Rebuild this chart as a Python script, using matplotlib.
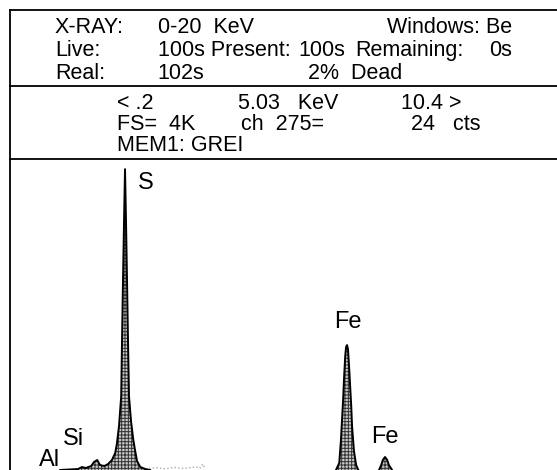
import matplotlib
matplotlib.use("Agg")
import matplotlib.pyplot as plt
from matplotlib.lines import Line2D

plt.rcParams["font.family"] = ["Liberation Sans", "DejaVu Sans"]
plt.rcParams["hatch.linewidth"] = 0.7

# spectrum outline (keV, counts)
s_kev = [1.12, 1.45, 1.52, 1.59, 1.69, 1.74, 1.80, 1.85, 1.93, 2.00, 2.07, 2.13,
         2.16, 2.20, 2.24, 2.255, 2.273, 2.292, 2.31, 2.328, 2.347, 2.365, 2.383,
         2.42, 2.46, 2.49, 2.53, 2.59, 2.68, 2.77]
s_counts = [0, 13, 39, 26, 52, 104, 130, 65, 52, 78, 130, 222,
            339, 574, 965, 1682, 2465, 3247, 3925, 3247, 2465, 1682, 965,
            639, 404, 274, 117, 39, 13, 0]

fe_ka_kev = [6.18, 6.24, 6.27, 6.29, 6.31, 6.33, 6.35, 6.365, 6.383, 6.40, 6.42,
             6.44, 6.46, 6.475, 6.51, 6.55, 6.59]
fe_ka_counts = [0, 91, 378, 639, 900, 1226, 1487, 1604, 1630, 1578, 1356,
                1095, 835, 574, 248, 65, 0]

fe_kb_kev = [6.97, 7.01, 7.04, 7.08, 7.12, 7.15, 7.21]
fe_kb_counts = [0, 65, 130, 170, 130, 65, 0]

bg_kev = [2.75, 2.9, 3.05, 3.2, 3.35, 3.5, 3.62, 3.68, 3.74, 3.78]
bg_counts = [20, 30, 15, 35, 20, 30, 40, 20, 78, 10]

# peak labels (element, keV, counts)
label_names = ["S", "Fe", "Fe", "Al", "Si"]
label_kev = [2.69, 6.40, 7.08, 0.92, 1.36]
label_counts = [3740, 1930, 430, 130, 400]

# header text: (text, x px, baseline y px, alignment)
header = [
    ("X-RAY:", 55, 33, "left"), ("0-20  KeV", 158, 33, "left"),
    ("Windows: Be", 512, 33, "right"),
    ("Live:", 55, 56, "left"), ("100s Present:", 158, 56, "left"),
    ("100s", 298, 56, "left"), ("Remaining:", 355, 56, "left"),
    ("0s", 512, 56, "right"),
    ("Real:", 55, 79, "left"), ("102s", 157, 79, "left"),
    ("2%  Dead", 308, 79, "left"),
    ("< .2", 117, 109, "left"), ("5.03   KeV", 238, 109, "left"),
    ("10.4 >", 401, 109, "left"),
    ("FS=  4K", 117, 130, "left"), ("ch  275=", 241, 130, "left"),
    ("24   cts", 411, 130, "left"),
    ("MEM1: GREI", 117, 151, "left"),
]

W, H = 557, 470
fig = plt.figure(figsize=(W / 100, H / 100), dpi=100)
fig.patch.set_facecolor("white")


def fx(x):
    return x / W


def fy(y):
    return 1 - y / H


# frame lines
for (x0, y0, x1, y1) in [(10, 10, W, 10), (10, 86, W, 86), (10, 159, W, 159),
                         (10, 10, 10, H)]:
    fig.add_artist(Line2D([fx(x0), fx(x1)], [fy(y0), fy(y1)], color="black",
                          lw=1.3, transform=fig.transFigure))

for txt, x, y, ha in header:
    fig.text(fx(x), fy(y), txt, fontsize=15.5, ha=ha, va="baseline")

# spectrum axes: 0.2 - 10.4 keV across the panel, 4K full scale
ax = fig.add_axes([fx(10), 0, (566 - 10) / W, (H - 155) / H])
ax.set_xlim(0.2, 10.4)
ax.set_ylim(0, 4110)
ax.axis("off")

for k, c in [(s_kev, s_counts), (fe_ka_kev, fe_ka_counts), (fe_kb_kev, fe_kb_counts)]:
    ax.fill(k, c, facecolor="#c8c8c8", edgecolor="#333333", hatch="+++++", lw=0)
    ax.plot(k, c, color="black", lw=1.4)

ax.plot(bg_kev, bg_counts, color="#aaaaaa", lw=1, ls=":")

for name, k, c in zip(label_names, label_kev, label_counts):
    ax.text(k, c, name, fontsize=17, ha="center", va="center")

fig.savefig("out.png", dpi=100)
